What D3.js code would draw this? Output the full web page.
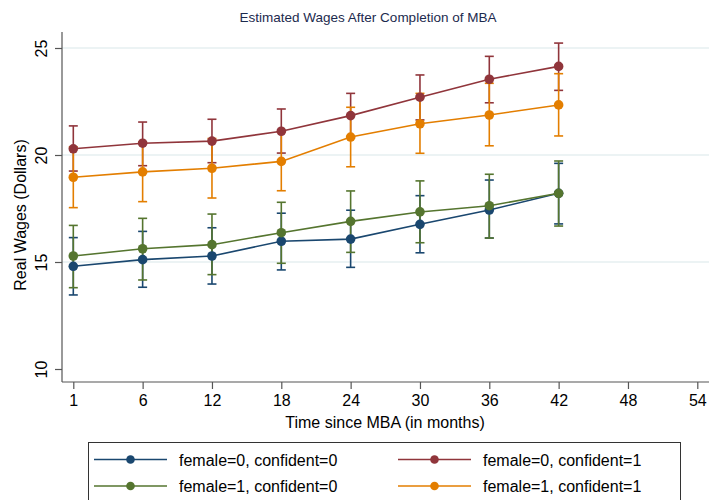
<!DOCTYPE html>
<html>
<head>
<meta charset="utf-8">
<script src="https://d3js.org/d3.v7.min.js"></script>
<style>
  body { margin: 0; background: #fff; }
  text { font-family: "Liberation Sans", Arial, Helvetica, sans-serif; }
</style>
</head>
<body>
<div class="chart"></div>
<script>
var svgWidth = 709;
var svgHeight = 500;

// x categories (months) and the tick labels on the axis
var months = [1, 6, 12, 18, 24, 30, 36, 42];
var xTickLabels = [1, 6, 12, 18, 24, 30, 36, 42, 48, 54];
var yTicks = [10, 15, 20, 25];

// female=0, confident=0
var est00 = [14.80, 15.11, 15.28, 15.97, 16.07, 16.76, 17.43, 18.21];
var lo00  = [13.46, 13.82, 13.97, 14.63, 14.75, 15.43, 16.12, 16.78];
var hi00  = [16.14, 16.43, 16.60, 17.28, 17.42, 18.10, 18.83, 19.61];
// female=0, confident=1
var est01 = [20.29, 20.55, 20.65, 21.11, 21.84, 22.70, 23.54, 24.14];
var lo01  = [19.25, 19.50, 19.64, 20.09, 20.80, 21.64, 22.44, 23.02];
var hi01  = [21.36, 21.54, 21.67, 22.15, 22.88, 23.74, 24.61, 25.23];
// female=1, confident=0
var est10 = [15.28, 15.62, 15.81, 16.37, 16.90, 17.34, 17.63, 18.21];
var lo10  = [13.80, 14.16, 14.41, 14.94, 15.45, 15.90, 16.12, 16.68];
var hi10  = [16.71, 17.04, 17.24, 17.79, 18.32, 18.79, 19.10, 19.72];
// female=1, confident=1
var est11 = [18.96, 19.21, 19.38, 19.70, 20.84, 21.46, 21.87, 22.34];
var lo11  = [17.54, 17.82, 17.99, 18.33, 19.45, 20.08, 20.43, 20.89];
var hi11  = [20.38, 20.60, 20.77, 21.07, 22.23, 22.88, 23.35, 23.80];

var seriesNames = ["female=0, confident=0", "female=0, confident=1",
                   "female=1, confident=0", "female=1, confident=1"];
var seriesColors = ["#1a476f", "#90353b", "#55752f", "#e37e00"];

var series = [
  {name: seriesNames[0], color: seriesColors[0], est: est00, lo: lo00, hi: hi00},
  {name: seriesNames[1], color: seriesColors[1], est: est01, lo: lo01, hi: hi01},
  {name: seriesNames[2], color: seriesColors[2], est: est10, lo: lo10, hi: hi10},
  {name: seriesNames[3], color: seriesColors[3], est: est11, lo: lo11, hi: hi11}
];

var plot = {left: 62, right: 709, top: 32, bottom: 382};

var svg = d3.select(".chart")
  .append("svg")
  .attr("width", svgWidth)
  .attr("height", svgHeight);

// x is categorical: evenly spaced positions for each month value
var xScale = d3.scaleLinear()
  .domain([0, xTickLabels.length - 1])
  .range([73.3, 697.3]);
var xPos = function(m) { return xScale(xTickLabels.indexOf(m)); };

var yScale = d3.scaleLinear()
  .domain([10, 25])
  .range([369, 48]);

// title
svg.append("text")
  .attr("x", 368)
  .attr("y", 22)
  .attr("text-anchor", "middle")
  .attr("font-size", 13.5)
  .attr("fill", "#1c2a4e")
  .text("Estimated Wages After Completion of MBA");

// gridlines
svg.append("g")
  .selectAll("line")
  .data(yTicks.slice(1))
  .enter()
  .append("line")
  .attr("x1", plot.left)
  .attr("x2", plot.right)
  .attr("y1", d => yScale(d))
  .attr("y2", d => yScale(d))
  .attr("stroke", "#e6eff1")
  .attr("stroke-width", 1.5);

// y axis
var leftAxis = d3.axisLeft(yScale).tickValues(yTicks).tickSize(7).tickPadding(0).tickFormat(d3.format("d"));
var yAxisG = svg.append("g")
  .attr("transform", `translate(${plot.left},0)`)
  .call(leftAxis);
yAxisG.select(".domain").attr("d", `M0,${plot.top}V${plot.bottom}`);
yAxisG.selectAll("line, .domain").attr("stroke", "#555").attr("stroke-width", 1.2);
yAxisG.selectAll("text")
  .attr("font-size", 16)
  .attr("fill", "#000")
  .attr("text-anchor", "middle")
  .attr("dy", null)
  .attr("x", null)
  .attr("transform", "translate(-15,0) rotate(-90)");

// x axis
var bottomAxis = d3.axisBottom(xScale)
  .tickValues(d3.range(xTickLabels.length))
  .tickFormat(i => xTickLabels[i])
  .tickSize(7)
  .tickPadding(6);
var xAxisG = svg.append("g")
  .attr("transform", `translate(0,${plot.bottom})`)
  .call(bottomAxis);
xAxisG.select(".domain").attr("d", `M${plot.left},0H${plot.right}`);
xAxisG.selectAll("line, .domain").attr("stroke", "#555").attr("stroke-width", 1.2);
xAxisG.selectAll("text").attr("font-size", 16).attr("fill", "#000");

// axis titles
svg.append("text")
  .attr("transform", "translate(26,215) rotate(-90)")
  .attr("text-anchor", "middle")
  .attr("font-size", 16)
  .text("Real Wages (Dollars)");

svg.append("text")
  .attr("x", 385)
  .attr("y", 428)
  .attr("text-anchor", "middle")
  .attr("font-size", 16)
  .text("Time since MBA (in months)");

// confidence intervals first
var capW = 4.5;
series.forEach(function(s) {
  var g = svg.append("g").attr("stroke", s.color).attr("stroke-width", 1.6).attr("fill", "none");
  months.forEach(function(m, i) {
    var x = xPos(m);
    g.append("line").attr("x1", x).attr("x2", x).attr("y1", yScale(s.lo[i])).attr("y2", yScale(s.hi[i]));
    g.append("line").attr("x1", x - capW).attr("x2", x + capW).attr("y1", yScale(s.lo[i])).attr("y2", yScale(s.lo[i]));
    g.append("line").attr("x1", x - capW).attr("x2", x + capW).attr("y1", yScale(s.hi[i])).attr("y2", yScale(s.hi[i]));
  });
});

// connected lines and markers
var line = d3.line()
  .x((d, i) => xPos(months[i]))
  .y(d => yScale(d));

series.forEach(function(s) {
  svg.append("path")
    .datum(s.est)
    .attr("d", line)
    .attr("fill", "none")
    .attr("stroke", s.color)
    .attr("stroke-width", 1.6);
  svg.append("g")
    .selectAll("circle")
    .data(s.est)
    .enter()
    .append("circle")
    .attr("cx", (d, i) => xPos(months[i]))
    .attr("cy", d => yScale(d))
    .attr("r", 4.8)
    .attr("fill", s.color);
});

// legend
var legend = svg.append("g");
legend.append("rect")
  .attr("x", 88.5)
  .attr("y", 442.5)
  .attr("width", 592)
  .attr("height", 70)
  .attr("fill", "none")
  .attr("stroke", "#333")
  .attr("stroke-width", 1);

var legendPos = [
  {x: 94, y: 459.5}, {x: 398, y: 459.5},
  {x: 94, y: 486}, {x: 398, y: 486}
];
series.forEach(function(s, i) {
  var p = legendPos[i];
  var item = legend.append("g").attr("transform", `translate(${p.x},${p.y})`);
  item.append("line").attr("x1", 0).attr("x2", 73).attr("stroke", s.color).attr("stroke-width", 1.6);
  item.append("circle").attr("cx", 36.5).attr("r", 4.3).attr("fill", s.color);
  item.append("text")
    .attr("x", 85)
    .attr("y", 6)
    .attr("font-size", 16)
    .text(s.name);
});
</script>
</body>
</html>
